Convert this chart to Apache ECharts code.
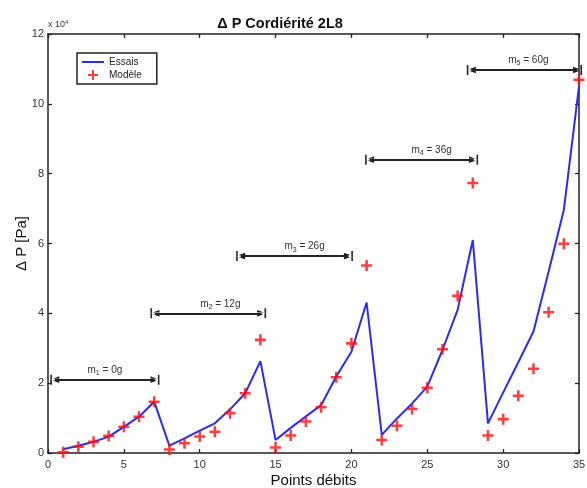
<!DOCTYPE html>
<html><head><meta charset="utf-8">
<script src="https://cdn.jsdelivr.net/npm/echarts@6/dist/echarts.min.js"></script>
<style>html,body{margin:0;padding:0;background:#fff}#c{width:587px;height:488px}</style>
</head><body><div id="c"></div>
<script>
// values in units of 1e4 Pa
var points = [];
for (var i = 1; i <= 35; i++) points.push(i);
var essais = [0.11,0.21,0.32,0.47,0.75,1.04,1.47,0.21,0.42,0.64,0.85,1.25,1.71,2.63,
  0.37,0.72,1.05,1.37,2.19,2.90,4.31,0.52,0.99,1.42,1.90,2.95,4.10,6.10,
  0.85,1.73,2.60,3.48,5.20,6.96,10.50];
var modele = [0.02,0.18,0.32,0.49,0.75,1.04,1.47,0.10,0.28,0.47,0.61,1.14,1.71,3.24,
  0.16,0.50,0.90,1.31,2.17,3.14,5.37,0.37,0.78,1.26,1.87,2.97,4.50,7.73,
  0.50,0.97,1.64,2.41,4.03,5.99,10.69];
var massLabels = [['1','0g'],['2','12g'],['3','26g'],['4','36g'],['5','60g']];
var massStart = [0.45, 7.05, 12.7, 21.2, 27.9];
var massEnd   = [7.05, 14.08, 19.8, 28.05, 34.9];
var massY     = [2.1, 4.0, 5.64, 8.4, 10.97];
var xTicks = [0,5,10,15,20,25,30,35];
var yTicks = [0,2,4,6,8,10,12];

var FONT = '"Liberation Sans", Arial, sans-serif';
var endSym = 'path://M-6,0L6,0L6,1.6L-6,1.6Z M0,0L4,9L1,9L1,1L-1,1L-1,9L-4,9Z';
var labelShift = [0, 12, 10, 10, 4];

var markData = massLabels.map(function (m, k) {
  return [
    {coord: [massStart[k], massY[k]],
     label: {formatter: '{a|m}{b|' + m[0] + '}{a| = ' + m[1] + '}', offset: [labelShift[k], 0]}},
    {coord: [massEnd[k], massY[k]]}
  ];
});

var chart = echarts.init(document.getElementById('c'), null, {renderer: 'canvas'});
var axisCommon = {
  axisLine: {show: true, onZero: false, lineStyle: {color: '#222', width: 1.5}},
  axisTick: {show: true, inside: true, length: 4, lineStyle: {color: '#222', width: 1.3}},
  splitLine: {show: false}
};
chart.setOption({
  animation: false,
  title: {
    text: 'Δ P Cordiérité 2L8', left: 275, top: 11, textAlign: 'center',
    textStyle: {fontFamily: FONT, fontSize: 14.5, fontWeight: 'bold', color: '#111'}
  },
  legend: {
    left: 77, top: 53, orient: 'vertical', itemGap: 3,
    itemWidth: 22, itemHeight: 10,
    padding: [4, 15, 4, 5],
    borderColor: '#222', borderWidth: 1.5,
    textStyle: {fontFamily: FONT, fontSize: 10, color: '#222'},
    data: [{name: 'Essais', icon: 'path://M0,0h22v2h-22z'},
           {name: 'Modèle', icon: 'path://M4,0h2v4h4v2h-4v4h-2v-4h-4v-2h4z'}]
  },
  grid: {left: 48, right: 8, top: 34, bottom: 35, containLabel: false, outerBoundsMode: 'none'},
  xAxis: [
    Object.assign({type: 'value', min: 0, max: 35, interval: 5, position: 'bottom',
      name: 'Points débits', nameLocation: 'middle', nameGap: 20, nameMoveOverlap: false,
      nameTextStyle: {fontFamily: FONT, fontSize: 15, color: '#111'},
      axisLabel: {fontFamily: FONT, fontSize: 11, color: '#333', margin: 6}}, axisCommon),
    Object.assign({type: 'value', min: 0, max: 35, interval: 5, position: 'top',
      axisLabel: {show: false}}, axisCommon)
  ],
  yAxis: [
    Object.assign({type: 'value', min: 0, max: 12, interval: 2, position: 'left',
      name: 'Δ P [Pa]', nameLocation: 'middle', nameGap: 19, nameRotate: 90, nameMoveOverlap: false,
      nameTextStyle: {fontFamily: FONT, fontSize: 15, color: '#111'},
      axisLabel: {fontFamily: FONT, fontSize: 11, color: '#333', margin: 4}}, axisCommon),
    Object.assign({type: 'value', min: 0, max: 12, interval: 2, position: 'right',
      axisLabel: {show: false}}, axisCommon)
  ],
  graphic: [{
    type: 'text', left: 48, top: 19,
    style: {text: '{a|x 10}{b|4}', fontFamily: FONT,
      rich: {a: {fontSize: 9, fontFamily: FONT, fill: '#333'},
             b: {fontSize: 6, fontFamily: FONT, fill: '#333', verticalAlign: 'top', padding: [0,0,6,0]}}}
  }],
  series: [
    {
      name: 'Essais', type: 'line', xAxisIndex: 0, yAxisIndex: 0,
      data: points.map(function (p, i) { return [p, essais[i]]; }),
      symbol: 'none', smooth: false,
      lineStyle: {color: '#2a2af5', width: 2},
      itemStyle: {color: '#2a2af5'},
      z: 3,
      markLine: {
        silent: true, symbol: [endSym, endSym], symbolSize: [10, 9],
        lineStyle: {color: '#222', width: 2, type: 'solid'},
        label: {show: true, position: 'insideMiddleTop', distance: 3,
          color: '#333', fontFamily: FONT,
          rich: {a: {fontSize: 10, fontFamily: FONT, color: '#333'},
                 b: {fontSize: 7, fontFamily: FONT, color: '#333', padding: [6,0,0,0]}}},
        emphasis: {disabled: true},
        data: markData
      }
    },
    {
      name: 'Modèle', type: 'scatter', xAxisIndex: 0, yAxisIndex: 0,
      data: points.map(function (p, i) { return [p, modele[i]]; }),
      symbol: 'path://M4,0h2.4v4h4v2.4h-4v4h-2.4v-4h-4v-2.4h4z', symbolSize: 11,
      itemStyle: {color: '#ff0d0d'},
      z: 4
    }
  ]
});
</script>
</body></html>
